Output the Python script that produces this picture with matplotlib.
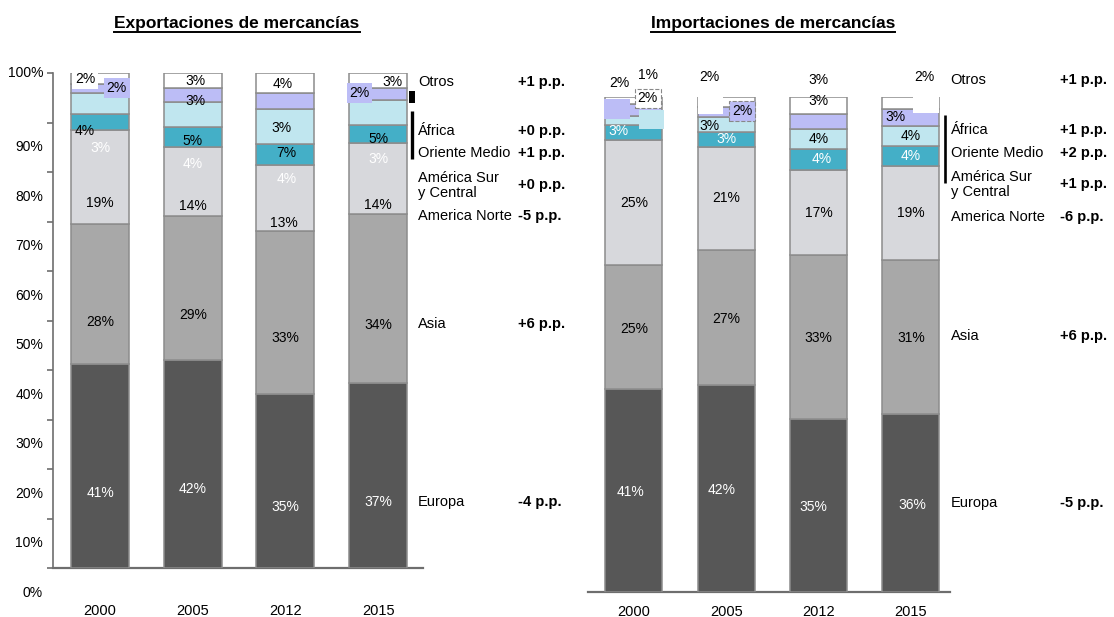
import matplotlib
matplotlib.use("Agg")
import matplotlib.pyplot as plt
import numpy as np
from matplotlib.lines import Line2D

plt.rcParams['font.family'] = ['Liberation Sans', 'DejaVu Sans']

# ---- data (shares in %, bottom to top) ----
years = ['2000', '2005', '2012', '2015']

exp_europa = [41.2, 42.0, 35.2, 37.3]
exp_asia = [28.3, 29.1, 32.9, 34.2]
exp_america = [19.0, 13.9, 13.3, 14.3]
exp_medio = [3.2, 4.0, 4.3, 3.6]
exp_africa = [4.3, 5.1, 7.0, 5.2]
exp_lila = [1.8, 2.8, 3.2, 2.4]
exp_otros = [2.2, 3.1, 4.1, 3.0]

imp_europa = [41.0, 41.8, 35.1, 36.1]
imp_asia = [25.2, 27.3, 33.1, 31.0]
imp_america = [25.1, 20.9, 17.2, 19.0]
imp_medio = [3.2, 3.0, 4.1, 4.0]
imp_africa = [1.7, 3.0, 4.0, 4.2]
imp_lila = [2.4, 2.0, 3.2, 3.4]
imp_otros = [1.4, 2.0, 3.3, 2.3]

legend_names = ['Otros', 'África', 'Oriente Medio', 'América Sur\ny Central',
                'America Norte', 'Asia', 'Europa']
exp_pp = ['+1 p.p.', '+0 p.p.', '+1 p.p.', '+0 p.p.', '-5 p.p.', '+6 p.p.', '-4 p.p.']
imp_pp = ['+1 p.p.', '+1 p.p.', '+2 p.p.', '+1 p.p.', '-6 p.p.', '+6 p.p.', '-5 p.p.']

# data labels as printed on the bars
exp_label_text = ['2%', '2%', '4%', '3%', '19%', '28%', '41%',
                  '3%', '3%', '5%', '4%', '14%', '29%', '42%',
                  '4%', '3%', '7%', '4%', '13%', '33%', '35%',
                  '3%', '2%', '5%', '3%', '14%', '34%', '37%']
imp_label_text = ['2%', '1%', '2%', '', '', '3%', '25%', '25%', '41%',
                  '2%', '', '2%', '3%', '3%', '21%', '27%', '42%',
                  '3%', '3%', '4%', '4%', '17%', '33%', '35%',
                  '2%', '', '3%', '4%', '4%', '19%', '31%', '36%']

# ---- layout of the labels: (bar, x shift, y, style) ----
exp_label_pos = [(0, -0.16, 98.8, 'boxw'), (0, 0.18, 97.0, 'boxl'), (0, -0.17, 88.3, 'k'),
                 (0, 0, 84.9, 'w'), (0, 0, 73.7, 'k'), (0, 0, 49.7, 'k'), (0, 0, 15.2, 'w'),
                 (1, 0.03, 98.4, 'k'), (1, 0.03, 94.4, 'k'), (1, 0, 86.3, 'k'),
                 (1, 0, 81.6, 'w'), (1, 0, 73.1, 'k'), (1, 0, 51.1, 'k'), (1, 0, 16.0, 'w'),
                 (2, -0.03, 97.8, 'k'), (2, -0.04, 88.9, 'k'), (2, 0.01, 83.9, 'k'),
                 (2, 0.01, 78.6, 'w'), (2, -0.02, 69.7, 'k'), (2, 0, 46.5, 'k'), (2, 0, 12.3, 'w'),
                 (3, 0.15, 98.2, 'k'), (3, -0.2, 96.0, 'boxl'), (3, 0, 86.7, 'k'),
                 (3, 0, 82.6, 'w'), (3, 0, 73.3, 'k'), (3, 0, 49.1, 'k'), (3, 0, 13.3, 'w')]
imp_label_pos = [(0, -0.16, 102.9, 'k'), (0, 0.15, 104.5, 'k'), (0, 0.15, 99.8, 'boxwd'),
                 (0, -0.18, 97.6, 'boxl'), (0, 0.19, 95.5, 'boxc'), (0, -0.17, 93.2, 'w'),
                 (0, 0, 78.6, 'k'), (0, 0, 53.2, 'k'), (0, -0.04, 20.3, 'w'),
                 (1, -0.18, 104.1, 'k'), (1, -0.17, 98.7, 'boxw'), (1, 0.17, 97.2, 'boxld'),
                 (1, -0.18, 94.2, 'k'), (1, 0, 91.6, 'w'), (1, 0, 79.7, 'k'),
                 (1, 0, 55.2, 'k'), (1, -0.05, 20.7, 'w'),
                 (2, 0, 103.5, 'k'), (2, 0, 99.3, 'k'), (2, 0, 91.6, 'k'), (2, 0.03, 87.5, 'w'),
                 (2, 0, 76.7, 'k'), (2, 0, 51.4, 'k'), (2, -0.06, 17.3, 'w'),
                 (3, 0.15, 104.1, 'k'), (3, 0.16, 98.8, 'boxw'), (3, -0.17, 96.0, 'k'),
                 (3, 0, 92.2, 'k'), (3, 0, 88.1, 'w'), (3, 0, 76.7, 'k'), (3, 0, 51.4, 'k'),
                 (3, 0.02, 17.6, 'w')]
exp_legend_y = [98.2, 88.3, 83.8, 77.3, 71.1, 49.3, 13.3]
imp_legend_y = [103.4, 93.3, 88.8, 82.4, 75.9, 51.7, 18.0]

colors = ['#575757', '#a8a8a8', '#d7d8dc', '#44afc7', '#c0e6ef', '#bcbdf6', '#ffffff']
edge = '#8c8c8c'


def draw_labels(ax, texts, positions):
    for txt, (bar, dx, y, style) in zip(texts, positions):
        kw = dict(ha='center', va='center', fontsize=10, zorder=6, clip_on=False)
        color = 'black'
        if style == 'w':
            color = 'white'
        elif style.startswith('box'):
            fc = {'w': 'white', 'l': colors[5], 'c': colors[4]}[style[3]]
            dashed = style.endswith('d')
            kw['bbox'] = dict(boxstyle='square,pad=0.2', fc=fc,
                              ec='#888888' if dashed else 'none',
                              ls='--', lw=0.8)
            if txt == '':
                txt = '2%'
                color = fc
        ax.text(bar + dx, y, txt, color=color, **kw)


def draw_chart(ax, series, label_text, label_pos, legend_y, pp, width, pp_x):
    x = np.arange(len(years))
    bottom = np.zeros(len(years))
    for vals, col in zip(series, colors):
        ax.bar(x, vals, width, bottom=bottom, color=col, edgecolor=edge,
               linewidth=1.1, zorder=3)
        bottom += np.array(vals)
    ax.set_ylim(0, 100)
    ax.set_xticks(x, years)
    ax.tick_params(axis='x', length=0, labelsize=10.5)
    for s in ['top', 'right']:
        ax.spines[s].set_visible(False)
    ax.spines['bottom'].set_color('#6e6e6e')
    ax.spines['bottom'].set_linewidth(1.6)
    draw_labels(ax, label_text, label_pos)
    for name, y, p in zip(legend_names, legend_y, pp):
        ax.text(3.43, y, name, ha='left', va='center', fontsize=10.5,
                linespacing=1.1, clip_on=False)
        ax.text(pp_x, y, p, ha='left', va='center', fontsize=10.5,
                fontweight='bold', clip_on=False)


fig = plt.figure(figsize=(11.14, 6.17), dpi=100)
W, H = 1114, 617

ax1 = fig.add_axes([53 / W, 1 - 568 / H, 370 / W, 495 / H])
ax2 = fig.add_axes([588 / W, 1 - 592.3 / H, 362 / W, 495 / H])

draw_chart(ax1, [exp_europa, exp_asia, exp_america, exp_medio, exp_africa, exp_lila, exp_otros],
           exp_label_text, exp_label_pos, exp_legend_y, exp_pp, 0.626, 4.51)
ax1.set_xlim(-0.507, 3.484)
ax1.tick_params(axis='x', pad=26)
ax1.spines['left'].set_bounds(0, 100)
ax1.spines['left'].set_color('#6e6e6e')
ax1.spines['left'].set_linewidth(1.2)
ax1.set_yticks(np.arange(0, 101, 10), [])
ax1.tick_params(axis='y', length=4.5, color='#6e6e6e', width=1.2)
# y labels sit half a step below their ticks, except the top one
for v in range(0, 101, 10):
    ypos = v if v == 100 else v - 5
    ax1.text(-0.027, ypos, f'{v}%', transform=ax1.get_yaxis_transform(),
             ha='right', va='center', fontsize=10, clip_on=False)
ax1.plot([3.366, 3.366], [94.0, 96.3], color='black', lw=4.3,
         solid_capstyle='butt', clip_on=False)
ax1.plot([3.366, 3.366], [82.6, 92.4], color='black', lw=2.4,
         solid_capstyle='butt', clip_on=False)

draw_chart(ax2, [imp_europa, imp_asia, imp_america, imp_medio, imp_africa, imp_lila, imp_otros],
           imp_label_text, imp_label_pos, imp_legend_y, imp_pp, 0.618, 4.62)
ax2.set_xlim(-0.498, 3.424)
ax2.tick_params(axis='x', pad=9)
ax2.spines['left'].set_visible(False)
ax2.set_yticks([])
ax2.plot([3.37, 3.37], [82.7, 96.4], color='black', lw=1.9,
         solid_capstyle='butt', clip_on=False)

# titles with underline
titles = []
for cx, t in [(237, 'Exportaciones de mercancías'), (773, 'Importaciones de mercancías')]:
    titles.append(fig.text(cx / W, 1 - 28 / H, t, ha='center', va='baseline',
                           fontsize=12.5, fontweight='bold'))
fig.canvas.draw()
for t in titles:
    bb = t.get_window_extent()
    x0, x1 = bb.x0 / W, bb.x1 / W
    fig.add_artist(Line2D([x0, x1], [1 - 31.5 / H] * 2, color='black', lw=1.4,
                          transform=fig.transFigure))

fig.savefig('out.png', dpi=100, facecolor='white')
